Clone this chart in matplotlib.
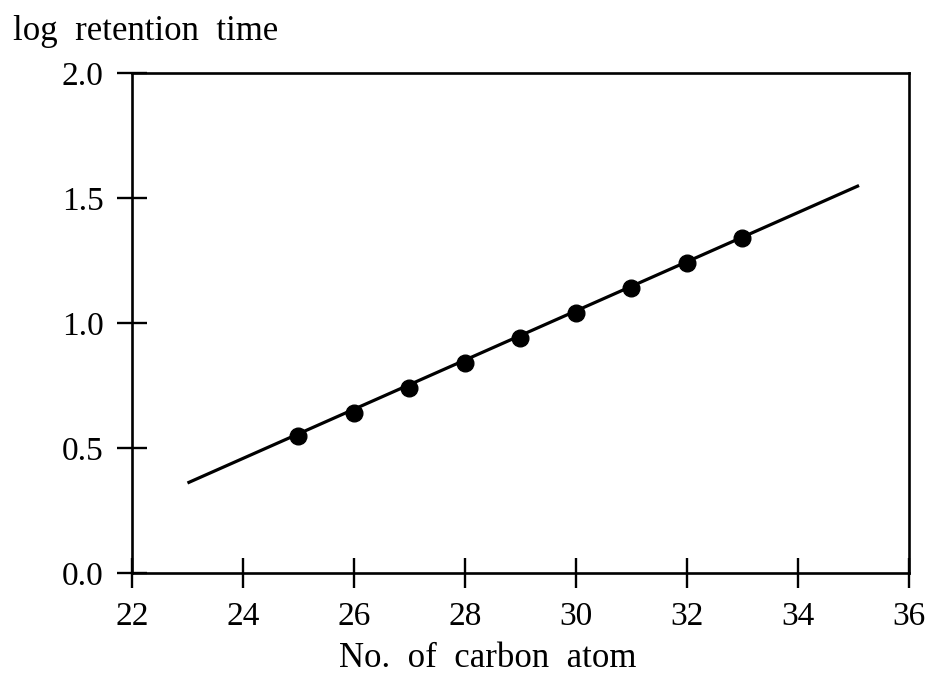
import matplotlib
matplotlib.use("Agg")
import matplotlib.pyplot as plt

plt.rcParams['font.family'] = ['Liberation Serif', 'DejaVu Serif']

# carbon number vs log retention time
carbon_atoms = [25, 26, 27, 28, 29, 30, 31, 32, 33]
log_rt = [0.55, 0.64, 0.74, 0.84, 0.94, 1.04, 1.14, 1.24, 1.34]

# fitted straight line, drawn from its two end points
fit_x = [23.0, 35.1]
fit_y = [0.36, 1.55]

x_ticks = [22, 24, 26, 28, 30, 32, 34, 36]
y_ticks = [0.0, 0.5, 1.0, 1.5, 2.0]

fig = plt.figure(figsize=(9.28, 6.79), dpi=100)
ax = fig.add_axes([0.1422, 0.1561, 0.8373, 0.7364])

ax.plot(fit_x, fit_y, color='black', lw=2.3, solid_capstyle='butt')
ax.plot(carbon_atoms, log_rt, 'o', color='black', ms=12)

ax.set_xlim(22, 36)
ax.set_ylim(0, 2.0)
ax.set_xticks(x_ticks)
ax.set_yticks(y_ticks)
ax.set_yticklabels(['%.1f' % v for v in y_ticks])

for s in ax.spines.values():
    s.set_linewidth(1.9)
ax.tick_params(direction='inout', length=21, width=1.7, labelsize=24)
ax.tick_params(axis='x', pad=10)
ax.tick_params(axis='y', pad=10)

ax.set_xlabel('No.  of  carbon  atom', fontsize=25, ha='center', va='top')
ax.xaxis.set_label_coords(0.458, -0.138)

fig.text(0.014, 1 - 40 / 679, 'log  retention  time', fontsize=25,
         ha='left', va='baseline')

fig.savefig('out.png', dpi=100, facecolor='white')
